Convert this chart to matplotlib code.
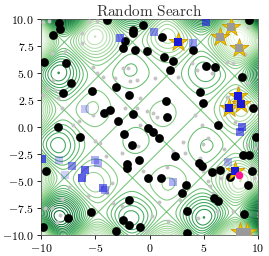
import numpy as np
import matplotlib
matplotlib.use("Agg")
import matplotlib.pyplot as plt
from matplotlib.ticker import FuncFormatter

plt.rcParams['mathtext.fontset'] = 'cm'
plt.rcParams['font.family'] = 'serif'

# ---- data ----
title = "Random Search"
xlim = [-10, 10]
ylim = [-10, 10]
xticks = [-10, -5, 0, 5, 10]
yticks = [-10.0, -7.5, -5.0, -2.5, 0.0, 2.5, 5.0, 7.5, 10.0]

black_x = [-8.31, -8.25, -8.87, -3.94, -0.63, -1.55, -1.49, -2.26, -2.41, -1.34, -0.26, 1.12, 1.34, 2.19, 1.89,
           4.04, -9.69, -7.72, -7.26, -8.0, -5.3, -3.09, -1.86, -3.64, -4.16, -1.49, -2.93, 1.49, 1.64, 4.65,
           4.96, 5.21, 6.04, 8.5, 9.2, 9.57, 6.28, -8.4, -0.17, -6.41, -2.35, 0.35, 0.9, -1.64, 2.35, -2.1,
           -2.05, -1.0, 4.59, 4.81, 5.79, 6.5, 8.65, 9.2, 9.42, 9.1, 9.82, -9.54, -0.14, 1.09, 2.97, 3.33,
           5.95, 6.3, -1.9, -5.42, -7.48, -9.85, -2.47, -1.9, -0.9, -3.06, 3.43, 3.5, 8.72, 7.45]
black_y = [9.66, 9.12, 8.56, 9.92, 9.42, 8.95, 8.75, 7.96, 7.32, 7.17, 7.08, 8.33, 6.45, 6.14, 5.25,
           7.1, 6.06, 5.97, 4.06, 3.16, 3.3, 3.67, 2.93, 1.57, 1.27, 1.16, 0.56, 2.44, 0.92, 3.25,
           2.2, 5.63, 5.57, 4.6, 9.92, 1.75, 0.19, 0.0, -0.08, -0.88, -0.63, -0.44, -0.98, -1.65, -2.7, -3.47,
           -3.8, -3.06, -3.35, -3.62, -4.2, -4.02, -2.62, -2.62, -4.04, -5.35, -0.88, -4.05, -4.73, -4.7, -6.12, -5.37,
           -6.58, -6.84, -6.8, -7.9, -8.44, -9.25, -8.59, -9.05, -9.22, -9.6, -7.76, -9.85, -8.1, -4.6]

grey_x = [-9.23, -4.87, -6.25, -6.25, -9.01, -3.18, -2.01, -1.18, 0.51, 3.89, 4.35, 5.73, 7.11, 7.72, 9.11,
          9.11, 8.19, 4.19, 4.81, 7.11, 0.35, 0.66, -1.18, -8.87, -8.71, -8.41, -5.18, -5.02, -4.56, -2.56,
          -4.01, -6.71, -1.03, 3.12, 4.9, 5.42, 3.27, 4.65, 7.17, 8.96, 9.72, -0.57, 1.58, 3.58, 4.96,
          5.42, 5.58, 5.88, 6.56, 9.42, 9.63, -5.64, -8.1, -9.63, -9.01, -8.25, -3.94, -3.33, -2.56, 0.2,
          1.73, 2.81, 3.43, 4.5, 6.19, 7.72, -0.26, -8.56, -9.85, -5.55, -7.79, -5.18, -4.81, -4.31, -2.41,
          -1.8, -9.47, -9.78, -7.02, -8.1, -2.26, -0.88, -0.88, -0.26, -7.02, 1.9, 2.6, -6.5, 7.9, 8.8,
          -3.5, 0.9, 2.2, 6.9, -7.4]
grey_y = [9.84, 9.84, 8.67, 7.81, 6.88, 4.51, 5.43, 4.35, 4.51, 5.95, 5.28, 4.97, 6.05, 5.9, 9.29,
          4.05, 3.58, 1.11, 0.19, 2.81, 1.27, 0.95, 1.73, 4.35, 3.43, 2.66, 1.11, -1.33, -1.48, -2.41,
          -2.71, -0.95, -1.79, -1.39, -1.55, -1.02, -2.41, -2.87, -3.03, -1.64, -1.94, -4.1, -3.73, -5.19, -4.1,
          -5.03, -5.49, -6.11, -4.72, -3.49, -4.72, -6.42, -6.64, -7.5, -7.5, -8.12, -6.11, -7.04, -7.34, -8.27,
          -8.73, -6.73, -7.5, -8.43, -7.81, -7.81, -9.66, -8.82, 9.72, 9.84, 7.0, 5.53, 5.0, 4.6, 5.46,
          4.23, 3.61, 2.99, 3.92, 1.76, 1.76, 2.69, 0.22, 1.45, 0.22, 5.4, 4.6, 0.6, 0.5, 6.8,
          -5.2, -6.9, -2.2, -2.0, -5.6]

blue_x = [5.21, 0.44, -2.72, 3.98, -5.94, 8.5, 8.34, -9.94, -8.31, -7.17, -7.79, -5.94, -6.25, -5.02, -4.78,
          -4.31, -4.1, 2.19, 7.2]
blue_y = [9.75, 8.77, 8.21, 7.81, 1.64, 0.03, -0.46, -2.94, -3.03, -3.58, -4.41, -3.95, -4.72, -3.03, -3.33,
          -5.65, -5.8, -5.12, -3.27]
blue_alpha = [0.65, 0.5, 0.6, 0.45, 0.25, 0.65, 0.6, 0.7, 0.25, 0.5, 0.2, 0.7, 0.7, 0.35, 0.35,
              0.6, 0.4, 0.35, 0.3]

star_x = [2.65, 6.5, 7.51, 8.25, 8.19, 7.36, 8.43, 7.88, 8.34, 8.96]
star_y = [7.9, 8.36, 9.29, 7.29, 2.87, 1.79, 2.1, -4.1, -9.7, -9.7]
star_inner = ['blue', 'grey', 'grey', 'grey', 'blue', 'blue', 'blue', 'blue', 'grey', 'grey']

pink_x = [8.22]
pink_y = [-4.41]

# ---- background test function ----
gx = np.linspace(xlim[0], xlim[1], 300)
gy = np.linspace(ylim[0], ylim[1], 300)
GX, GY = np.meshgrid(gx, gy)
R = np.sqrt(GX**2 + GY**2)
Z = -(np.sin(GX) + np.sin(GY)) * np.exp(np.abs(1 - R / np.pi))
Zt = np.arcsinh(Z / 30.0)

fig = plt.figure(figsize=(2.69, 2.56), dpi=100)
ax = fig.add_axes([41/269, 21/256, 217/269, 216/256])
ax.contour(GX, GY, Zt, levels=36, cmap='Greens', linewidths=0.75)

ax.scatter(grey_x, grey_y, s=8, color='#c4c4c4', zorder=3, linewidths=0)
ax.scatter(black_x, black_y, s=40, color='black', zorder=4, linewidths=0)
for bx, by, ba in zip(blue_x, blue_y, blue_alpha):
    ax.scatter([bx], [by], s=30, marker='s', color='#1f1fe0', alpha=ba, zorder=5, linewidths=0)
ax.scatter(star_x, star_y, s=200, marker='*', color='#f5c400', edgecolors='#c89a00',
           linewidths=0.6, zorder=6)
for sx, sy, si in zip(star_x, star_y, star_inner):
    if si == 'blue':
        ax.scatter([sx], [sy], s=34, marker='s', color='#1a1ad8', zorder=7, linewidths=0)
    else:
        ax.scatter([sx], [sy], s=26, marker='s', color='#9a9a9a', zorder=7, linewidths=0)
ax.scatter(pink_x, pink_y, s=30, color='#ff1493', zorder=8, linewidths=0)

ax.set_xlim(xlim)
ax.set_ylim(ylim)
ax.set_xticks(xticks)
ax.set_yticks(yticks)
ax.xaxis.set_major_formatter(FuncFormatter(lambda v, p: r'$%d$' % v))
ax.yaxis.set_major_formatter(FuncFormatter(lambda v, p: r'$%.1f$' % v))
ax.tick_params(labelsize=8.5, length=3, width=0.6, pad=2)
for s in ax.spines.values():
    s.set_linewidth(0.6)
    s.set_color('#555555')
ax.set_title(r'$\mathrm{Random\ Search}$', fontsize=11, pad=2, color='#333333')

fig.savefig('out.png', dpi=100)
